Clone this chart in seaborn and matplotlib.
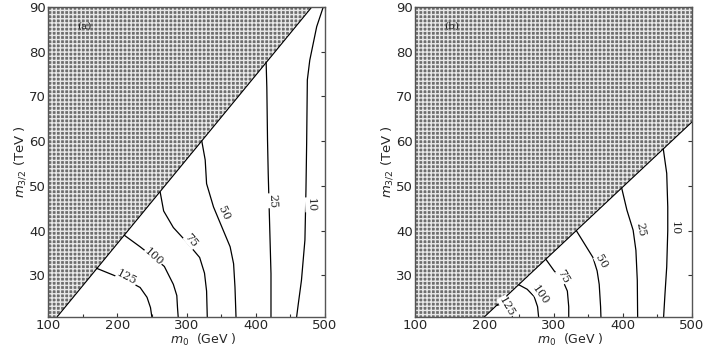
import matplotlib
matplotlib.use("Agg")
import matplotlib.pyplot as plt
import seaborn as sns
import pandas as pd

# ---------------- data ----------------
x_ticks = [100, 200, 300, 400, 500]
y_ticks = [30, 40, 50, 60, 70, 80, 90]
x_range = [100, 500]
y_range = [20.7, 90]
levels = [125, 100, 75, 50, 25, 10]

# excluded (hatched) region boundaries
bound_a_x = [113, 481]
bound_a_y = [20.7, 90]
bound_b_x = [200, 500]
bound_b_y = [20.7, 64.3]

# panel (a) contours
a125_x = [170, 197, 215, 233, 243, 248, 250]
a125_y = [31.6, 29.9, 28.8, 27.3, 25.1, 22.8, 20.7]
a100_x = [210, 233, 252, 268, 281, 286, 287, 288]
a100_y = [39.0, 36.4, 34.1, 32.0, 28.0, 25.5, 22.8, 20.7]
a75_x = [262, 267, 281, 300, 319, 326, 329, 330]
a75_y = [48.6, 44.4, 40.7, 37.5, 34.0, 30.5, 26.5, 20.7]
a50_x = [322, 327, 329, 339, 353, 363, 368, 370, 371.5]
a50_y = [60.1, 55.8, 50.5, 45.3, 40.1, 36.4, 32.6, 27.4, 20.7]
a25_x = [415, 416, 417, 418, 420, 422, 422]
a25_y = [77.6, 72.0, 60.2, 52.8, 41.6, 30.4, 20.7]
a10_x = [497.5, 488, 478, 474.5, 473.5, 472.5, 471, 466, 461.5, 459]
a10_y = [90, 85.6, 78.1, 73.7, 59.5, 49.1, 37.9, 28.9, 23.7, 20.7]

# panel (b) contours
b125_x = [218, 228, 235, 239, 240.5]
b125_y = [23.3, 23.7, 22.9, 21.8, 20.7]
b100_x = [250, 262, 272, 277, 278.5]
b100_y = [27.9, 26.9, 25.3, 23.0, 20.7]
b75_x = [289, 301, 313, 320, 322, 322]
b75_y = [33.6, 31.0, 29.0, 26.5, 23.0, 20.7]
b50_x = [333, 345, 357, 363, 366, 368, 368.5]
b50_y = [40.0, 37.0, 34.0, 31.0, 28.0, 23.0, 20.7]
b25_x = [398.5, 406, 415, 419, 421, 421.5]
b25_y = [49.5, 44.6, 40.1, 35.6, 28.9, 20.7]
b10_x = [458.5, 463.5, 465, 465, 463.5, 461, 459]
b10_y = [58.3, 52.8, 45.3, 40.0, 31.9, 25.9, 20.7]

panel_names = ["(a)", "(b)"]
x_label = r"$m_0$  (GeV )"
y_label = r"$m_{3/2}$ (TeV )"

# ---------------- build tables ----------------
def table(curves):
    rows = []
    for lev, xs, ys in curves:
        for i, (xv, yv) in enumerate(zip(xs, ys)):
            rows.append({"level": lev, "order": i, "m0": xv, "m32": yv})
    return pd.DataFrame(rows)

df_a = table(zip(levels, [a125_x, a100_x, a75_x, a50_x, a25_x, a10_x],
                 [a125_y, a100_y, a75_y, a50_y, a25_y, a10_y]))
df_b = table(zip(levels, [b125_x, b100_x, b75_x, b50_x, b25_x, b10_x],
                 [b125_y, b100_y, b75_y, b50_y, b25_y, b10_y]))

# label placement (layout)
lab_a = [(214, 29.5, -28), (252, 34.1, -42), (307, 37.7, -50),
         (354, 43.8, -65), (424, 46.7, -88), (479, 45.8, -88)]
lab_b = [(232, 23.0, -60), (281, 25.5, -55), (314, 29.8, -60),
         (369, 33.0, -60), (425, 40.3, -80), (475, 40.5, -90)]

# ---------------- draw ----------------
sns.set_theme(style="white")
plt.rcParams["font.family"] = ["DejaVu Sans"]
plt.rcParams["hatch.linewidth"] = 1.0

fig = plt.figure(figsize=(7.08, 3.47), dpi=100)
ax_a = fig.add_axes([48 / 708, 30 / 347, 277 / 708, 310 / 347])
ax_b = fig.add_axes([415 / 708, 30 / 347, 277 / 708, 310 / 347])

panels = [
    (ax_a, df_a, lab_a, [x_range[0], bound_a_x[0], bound_a_x[1], x_range[0]],
     [y_range[0], bound_a_y[0], bound_a_y[1], y_range[1]], bound_a_x, bound_a_y),
    (ax_b, df_b, lab_b, [x_range[0], bound_b_x[0], bound_b_x[1], x_range[1], x_range[0]],
     [y_range[0], bound_b_y[0], bound_b_y[1], y_range[1], y_range[1]], bound_b_x, bound_b_y),
]

for k, (ax, df, labs, px, py, bx, by) in enumerate(panels):
    ax.fill(px, py, facecolor="#6e6e6e", edgecolor="#e8e8e8", hatch="++++",
            linewidth=0, zorder=1)
    ax.plot(bx, by, color="black", lw=0.8, zorder=2)
    sns.lineplot(data=df, x="m0", y="m32", units="level", estimator=None,
                 sort=False, color="black", lw=0.9, ax=ax, legend=False, zorder=3)
    for lev, (lx, ly, rot) in zip(levels, labs):
        ax.text(lx, ly, str(lev), rotation=rot, ha="center", va="center",
                fontsize=8, family="DejaVu Serif", zorder=4,
                bbox=dict(facecolor="white", edgecolor="none", pad=0.2))
    ax.text(153, 85.7, panel_names[k], fontsize=7.5, family="DejaVu Serif",
            ha="center", va="center", zorder=4)
    ax.set_xlim(x_range)
    ax.set_ylim(y_range)
    ax.set_xticks(x_ticks)
    ax.set_xticks([150, 250, 350, 450], minor=True)
    ax.set_yticks(y_ticks)
    ax.tick_params(axis="both", which="both", direction="in", top=True, right=True,
                   bottom=True, left=True, length=3, width=0.8, color="#333333",
                   labelsize=9.5, pad=1.5)
    ax.tick_params(which="minor", length=2)
    for s in ax.spines.values():
        s.set_color("#555555")
        s.set_linewidth(1.0)
        s.set_zorder(5)
    ax.set_xlabel(x_label, fontsize=9, labelpad=0)
    ax.set_ylabel(y_label, fontsize=9.5, labelpad=1)
    ax.xaxis.set_label_coords(0.56, -0.048)
    ax.grid(False)

fig.savefig("out.png", dpi=100)
